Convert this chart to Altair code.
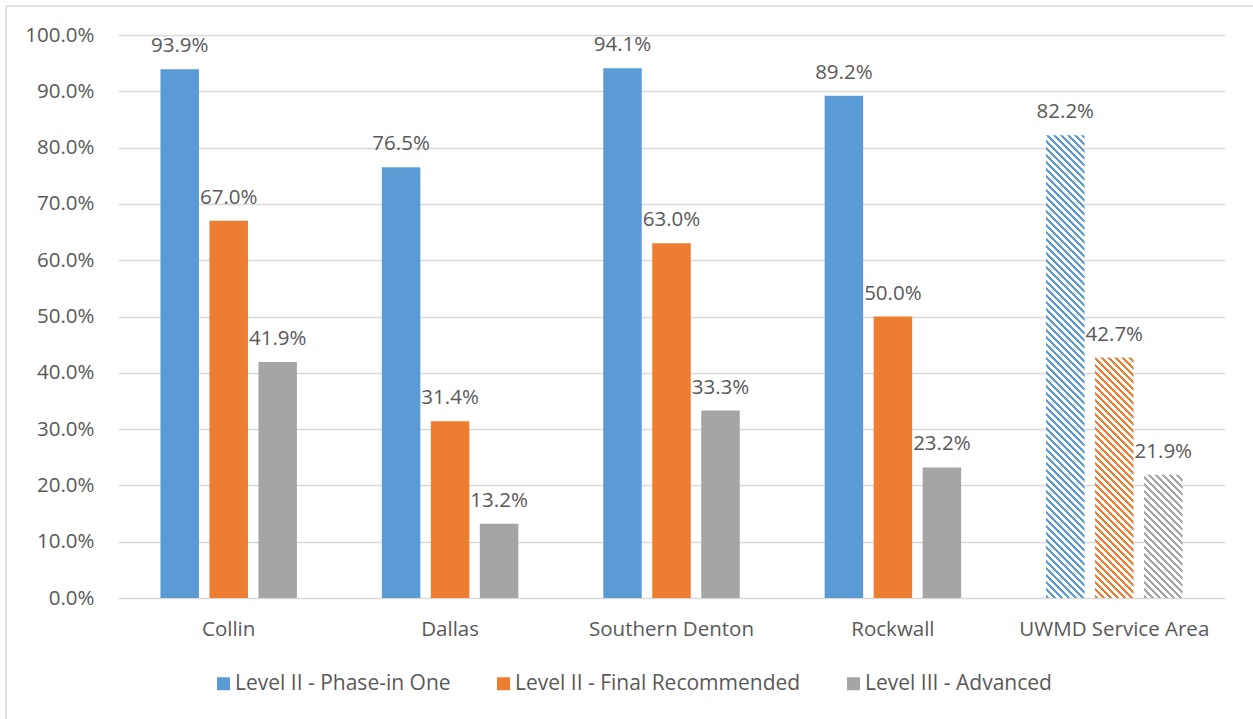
import math
import altair as alt
import pandas as pd

# Share of each county meeting each conservation level
categories = ["Collin", "Dallas", "Southern Denton", "Rockwall", "UWMD Service Area"]
series = ["Level II - Phase-in One", "Level II - Final Recommended", "Level III - Advanced"]
phase_in_one = [0.939, 0.765, 0.941, 0.892, 0.822]
final_recommended = [0.670, 0.314, 0.630, 0.500, 0.427]
advanced = [0.419, 0.132, 0.333, 0.232, 0.219]
tick_values = [0.0, 0.1, 0.2, 0.3, 0.4, 0.5, 0.6, 0.7, 0.8, 0.9, 1.0]
colors = ["#5B9BD5", "#ED7D31", "#A5A5A5"]
hatched_category = "UWMD Service Area"

rows = []
for s, vals in zip(series, [phase_in_one, final_recommended, advanced]):
    for c, v in zip(categories, vals):
        rows.append({"category": c, "series": s, "value": v})
df = pd.DataFrame(rows)

# Layout (pixels)
PLOT_W, PLOT_H = 1107, 563
BAND_FRAC = 136.5 / 221.4          # share of each category step filled by its bar group
BAR_GAP_FRAC = 10.5 / 49.0         # gap between bars within a group
BAR_W = 38.5
FONT = "Open Sans"
FS = 20.5
TEXT = "#595959"
GRID = "#d9d9d9"

x_enc = alt.X(
    "category:N",
    sort=categories,
    scale=alt.Scale(paddingInner=1 - BAND_FRAC, paddingOuter=(1 - BAND_FRAC) / 2),
    axis=alt.Axis(
        title=None, labelAngle=0, domain=False, ticks=False, grid=False,
        labelFont=FONT, labelFontSize=FS, labelColor=TEXT, labelPadding=21,
        labelLimit=0,
    ),
)
xoff_enc = alt.XOffset(
    "series:N",
    sort=series,
    scale=alt.Scale(domain=series, paddingInner=BAR_GAP_FRAC, paddingOuter=0),
)
y_enc = alt.Y(
    "value:Q",
    scale=alt.Scale(domain=[0, 1], nice=False),
    axis=alt.Axis(
        title=None, format=".1%", values=tick_values, domain=False, ticks=False,
        gridColor=GRID, gridWidth=1.5, labelFont=FONT, labelFontSize=FS,
        labelColor=TEXT, labelPadding=24,
    ),
)

base = alt.Chart(df)

solid_bars = base.transform_filter(
    alt.datum.category != hatched_category
).mark_bar(strokeWidth=0).encode(
    x=x_enc,
    xOffset=xoff_enc,
    y=y_enc,
    color=alt.Color(
        "series:N",
        sort=series,
        scale=alt.Scale(domain=series, range=colors),
        legend=alt.Legend(
            title=None, orient="none", legendX=95, legendY=638,
            direction="horizontal", columns=3, columnPadding=42,
            symbolType="square", symbolSize=169, symbolStrokeWidth=0,
            labelFont=FONT, labelFontSize=21, labelColor=TEXT,
            labelOffset=1, padding=0, labelLimit=0,
        ),
    ),
)


def diagonal_hatch(color, value, period=7.0):
    """Downward-diagonal stripes built from a hard-stop linear gradient."""
    w, h = BAR_W, value * PLOT_H
    s = (w + h) / (w * w + h * h)
    step = period / (w + h)
    stops = []
    t = 0.0
    while t < 1.0:
        mid = min(t + step / 2, 1.0)
        end = min(t + step, 1.0)
        stops += [
            alt.GradientStop(color=color, offset=t),
            alt.GradientStop(color=color, offset=mid),
            alt.GradientStop(color="#ffffff", offset=mid),
            alt.GradientStop(color="#ffffff", offset=end),
        ]
        t += step
    return alt.LinearGradient(
        gradient="linear", stops=stops,
        x1=0, y1=1, x2=s * w, y2=1 - s * h,
    )


hatched_layers = []
for s, col, vals in zip(series, colors, [phase_in_one, final_recommended, advanced]):
    v = vals[categories.index(hatched_category)]
    layer = base.transform_filter(
        (alt.datum.category == hatched_category) & (alt.datum.series == s)
    ).mark_bar(fill=diagonal_hatch(col, v), strokeWidth=0).encode(
        x=x_enc, xOffset=xoff_enc, y=y_enc,
    )
    hatched_layers.append(layer)

labels = base.mark_text(
    baseline="alphabetic", dy=-17, font=FONT, fontSize=FS, color=TEXT,
).encode(
    x=x_enc, xOffset=xoff_enc, y=y_enc,
    text=alt.Text("value:Q", format=".1%"),
)

# Chart-area frame lines (left and top edges)
frame_data = alt.Data(values=[{}])
frame_left = alt.Chart(frame_data).mark_rule(color=GRID, strokeWidth=1.5).encode(
    x=alt.value(-112), y=alt.value(-29), y2=alt.value(700),
)
frame_top = alt.Chart(frame_data).mark_rule(color=GRID, strokeWidth=1.5).encode(
    x=alt.value(-112), x2=alt.value(1150), y=alt.value(-29),
)

chart = alt.layer(
    solid_bars, *hatched_layers, labels, frame_left, frame_top
).properties(
    width=PLOT_W,
    height=PLOT_H,
    padding={"left": 118, "top": 35, "right": 28, "bottom": 121},
    autosize=alt.AutoSizeParams(type="none"),
    background="white",
).configure_view(stroke=None)

chart.save("out.html", embed_options={"renderer": "svg", "actions": False})
